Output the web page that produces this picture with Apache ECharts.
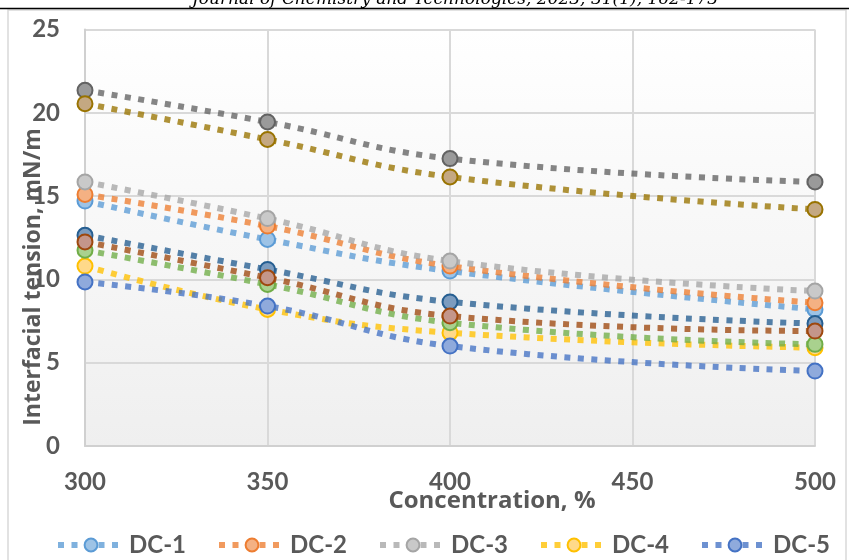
<!DOCTYPE html>
<html>
<head>
<meta charset="utf-8">
<script src="https://cdn.jsdelivr.net/npm/echarts@6/dist/echarts.min.js"></script>
<style>
html,body{margin:0;padding:0;background:#fff;}
#chart{width:849px;height:560px;}
</style>
</head>
<body>
<div id="chart"></div>
<script>
// ---- data ----
const concentrations = [300, 350, 400, 500];
const xTicks = [300, 350, 400, 450, 500];
const yTicks = [0, 5, 10, 15, 20, 25];
const seriesNames = ['DC-1','DC-2','DC-3','DC-4','DC-5','DC-6','DC-7','DC-8','DC-9','DC-10'];
const dc1  = [14.7, 12.4, 10.5, 8.2];
const dc2  = [15.1, 13.2, 10.8, 8.6];
const dc3  = [15.85, 13.65, 11.1, 9.3];
const dc4  = [10.8, 8.2, 6.8, 5.9];
const dc5  = [9.85, 8.4, 6.0, 4.5];
const dc6  = [11.75, 9.7, 7.4, 6.1];
const dc7  = [12.65, 10.6, 8.65, 7.35];
const dc8  = [12.25, 10.1, 7.8, 6.9];
const dc9  = [21.35, 19.45, 17.25, 15.85];
const dc10 = [20.55, 18.4, 16.15, 14.2];
const seriesValues = [dc1, dc2, dc3, dc4, dc5, dc6, dc7, dc8, dc9, dc10];

const lineColors = ['#5B9BD5','#ED7D31','#A5A5A5','#FFC000','#4472C4','#70AD47','#255E91','#9E480E','#636363','#997300'];
const fillColors = ['#9DC3E6','#F4B183','#C9C9C9','#FFD98A','#8FAADC','#A9D18E','#7C9CBF','#C4968A','#9A9A9A','#C4A882'];

const chart = echarts.init(document.getElementById('chart'), null, {renderer:'canvas'});
const labelFont = {color:'#595959', fontWeight:'bold', fontSize:24, fontFamily:'Lato'};

const series = seriesNames.map((name, i) => ({
  name: name,
  type: 'line',
  smooth: 0.45,
  data: concentrations.map((c, j) => [c, seriesValues[i][j]]),
  symbol: 'circle',
  symbolSize: 15,
  lineStyle: {color: lineColors[i], width: 6, type: [6, 7.5], cap: 'butt', opacity: 0.78},
  itemStyle: {color: fillColors[i], borderColor: lineColors[i], borderWidth: 2, opacity: 1},
  emphasis: {disabled: true},
  z: 2 + i
}));

chart.setOption({
  animation: false,
  backgroundColor: '#ffffff',
  grid: {
    left: 85, right: 34, top: 29.5, bottom: 114,
    show: true, borderWidth: 0,
    backgroundColor: new echarts.graphic.LinearGradient(0, 0, 0, 1, [
      {offset: 0, color: '#ffffff'}, {offset: 1, color: '#efefef'}
    ])
  },
  xAxis: {
    type: 'value', min: 300, max: 500, interval: 50,
    axisLine: {show: true, onZero: false, lineStyle: {color: '#d0d0d0', width: 2}},
    axisTick: {show: false},
    splitLine: {show: true, lineStyle: {color: '#d9d9d9', width: 2}},
    axisLabel: Object.assign({margin: 24, formatter: v => xTicks.includes(v) ? String(v) : ''}, labelFont)
  },
  yAxis: {
    type: 'value', min: 0, max: 25, interval: 5,
    axisLine: {show: true, lineStyle: {color: '#d0d0d0', width: 2}},
    axisTick: {show: false},
    splitLine: {show: true, lineStyle: {color: '#d9d9d9', width: 2}},
    axisLabel: Object.assign({margin: 25, formatter: v => yTicks.includes(v) ? String(v) : ''}, labelFont)
  },
  legend: {
    data: seriesNames,
    top: 528, left: 50, width: 820,
    itemWidth: 66, itemHeight: 16, itemGap: 30,
    lineStyle: {width: 6, type: [6, 7.5], cap: 'butt'},
    textStyle: {color:'#595959', fontWeight:'bold', fontSize:24, fontFamily:'Lato'},
    selectedMode: false
  },
  graphic: [
    {type: 'rect', silent: true, z: -10, shape: {x: 8, y: 10, width: 838, height: 600},
     style: {fill: 'none', stroke: '#d9d9d9', lineWidth: 1.5}},
    {type: 'line', silent: true, shape: {x1: 0, y1: 8.5, x2: 849, y2: 8.5},
     style: {stroke: '#000000', lineWidth: 1.5}},
    {type: 'text', silent: true, x: 455, y: 8,
     style: {text: 'Journal of Chemistry and Technologies, 2023, 31(1), 162-173', fill: '#000',
             font: 'italic 17px "DejaVu Serif"', textAlign: 'center', textVerticalAlign: 'bottom'}},
    {type: 'text', silent: true, x: 492, y: 501,
     style: {text: 'Concentration, %', fill: '#595959', font: 'bold 24px "Open Sans"',
             textAlign: 'center', textVerticalAlign: 'middle'}},
    {type: 'text', silent: true, x: 33, y: 277, rotation: Math.PI / 2,
     style: {text: 'Interfacial tension, mN/m', fill: '#595959', font: 'bold 23px "Open Sans"',
             textAlign: 'center', textVerticalAlign: 'middle'}}
  ],
  series: series
});
</script>
</body>
</html>
